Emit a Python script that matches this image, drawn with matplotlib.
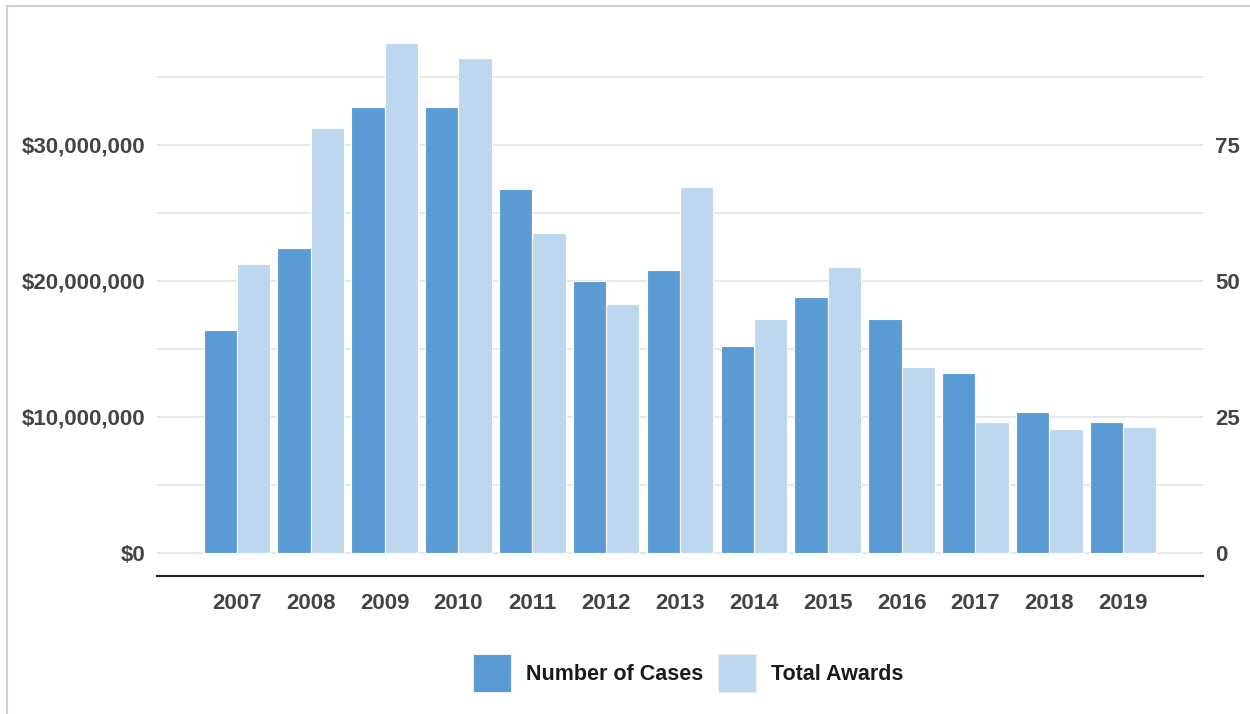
import matplotlib
matplotlib.use("Agg")
import matplotlib.pyplot as plt
import numpy as np
from matplotlib.lines import Line2D
from matplotlib.ticker import FuncFormatter

years = ["2007", "2008", "2009", "2010", "2011", "2012", "2013",
         "2014", "2015", "2016", "2017", "2018", "2019"]
cases = [41, 56, 82, 82, 67, 50, 52, 38, 47, 43, 33, 26, 24]
awards = [21.25e6, 31.25e6, 37.5e6, 36.4e6, 23.5e6, 18.3e6, 26.9e6,
          17.2e6, 21.0e6, 13.7e6, 9.6e6, 9.1e6, 9.3e6]
left_ticks = [0, 10e6, 20e6, 30e6]
right_ticks = [0, 25, 50, 75]
series_names = ["Number of Cases", "Total Awards"]

DARK = "#5b9bd5"
LIGHT = "#bdd7ee"
TXT = "#444444"
plt.rcParams['font.family'] = ['Liberation Sans', 'DejaVu Sans']

W, H = 1250, 714
fig = plt.figure(figsize=(W / 100, H / 100), dpi=100)

x0, x1 = 157, 1203
ybase_px = 576
ytop_px = 29.4
ax = fig.add_axes([x0 / W, (H - ybase_px) / H, (x1 - x0) / W, (ybase_px - ytop_px) / H])
px_per_m = 13.6
ymin = -(ybase_px - 553) / px_per_m * 1e6
ymax = (553 - ytop_px) / px_per_m * 1e6
scale = 400000.0  # dollars per case on the shared grid

ax2 = ax.twinx()
ax2.set_zorder(ax.get_zorder() - 1)
ax.patch.set_visible(False)

x = np.arange(len(years))
bw = 0.45
ax2.bar(x - bw / 2, cases, width=bw, color=DARK, edgecolor="white", linewidth=0.8, zorder=3)
ax.bar(x + bw / 2, awards, width=bw, color=LIGHT, edgecolor="white", linewidth=0.8, zorder=3)

ax.set_xlim(-1.08, 12 + 1.08)
ax.set_ylim(ymin, ymax)
ax2.set_ylim(ymin / scale, ymax / scale)

for g in np.arange(0, 35e6 + 1, 5e6):
    ax2.axhline(g / scale, color="#e3e3e3", linewidth=1.2, zorder=0)

ax.set_yticks(left_ticks)
ax.yaxis.set_major_formatter(FuncFormatter(lambda v, p: "${:,.0f}".format(v)))
ax2.set_yticks(right_ticks)
ax.set_xticks(x)
ax.set_xticklabels(years)

FS = 16
for a in (ax, ax2):
    for s in a.spines.values():
        s.set_visible(False)
    a.tick_params(length=0, labelsize=FS, labelcolor=TXT)
for lab in ax.get_yticklabels() + ax2.get_yticklabels() + ax.get_xticklabels():
    lab.set_fontweight("bold")
ax.tick_params(axis="y", pad=8.6)
ax2.tick_params(axis="y", pad=8.6)
ax.tick_params(axis="x", pad=12)

ax.spines["bottom"].set_visible(True)
ax.spines["bottom"].set_color("#222222")
ax.spines["bottom"].set_linewidth(1.5)

handles = [Line2D([], [], marker="s", linestyle="none", markersize=28,
                  markerfacecolor=DARK, markeredgecolor="#e8eef5", markeredgewidth=0.8),
           Line2D([], [], marker="s", linestyle="none", markersize=28,
                  markerfacecolor=LIGHT, markeredgecolor="#e8eef5", markeredgewidth=0.8)]
leg = fig.legend(handles, series_names, loc="center", bbox_to_anchor=(687 / W, 1 - 675 / H),
                 ncol=2, frameon=False, handlelength=2.0, handletextpad=0.6, columnspacing=0.56,
                 prop={"weight": "bold", "size": 15.5})
for t in leg.get_texts():
    t.set_color("#1a1a1a")

fig.add_artist(plt.Line2D([7 / W, 7 / W], [0, 1 - 6 / H], color="#d0d0d0", linewidth=1.5,
                          transform=fig.transFigure))
fig.add_artist(plt.Line2D([7 / W, 1], [1 - 6 / H, 1 - 6 / H], color="#d0d0d0", linewidth=1.5,
                          transform=fig.transFigure))

fig.savefig("out.png", dpi=100, facecolor="white")
